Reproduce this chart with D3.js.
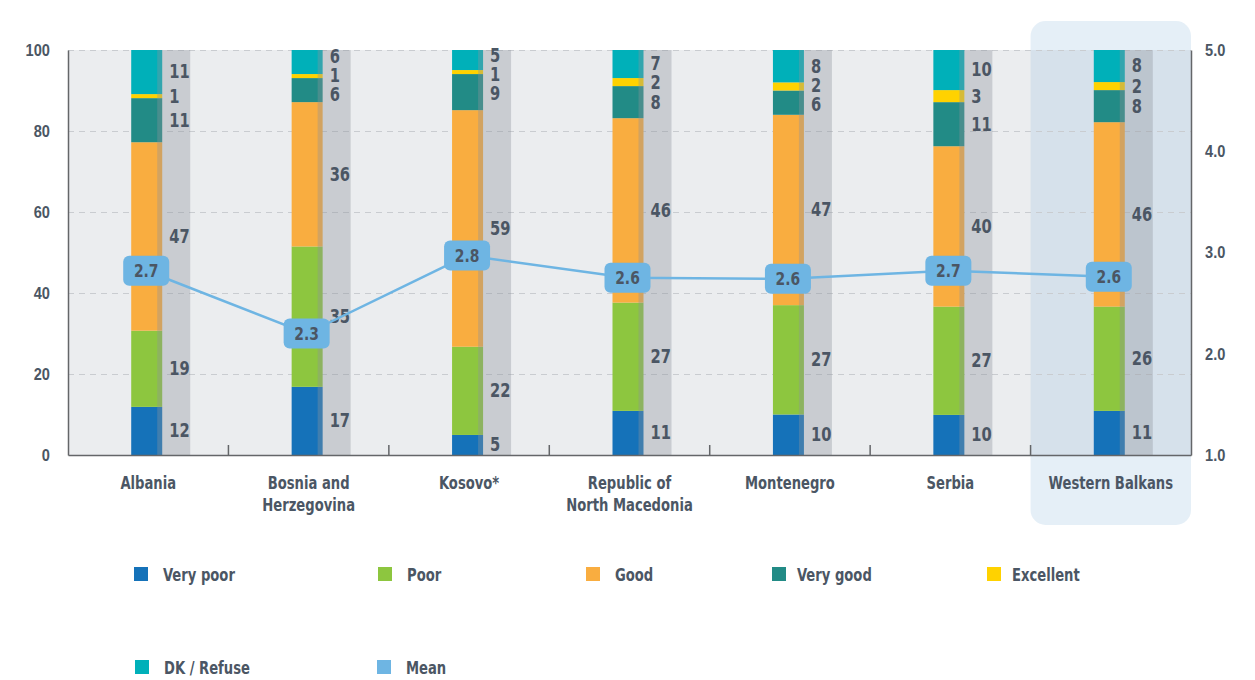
<!DOCTYPE html>
<html><head><meta charset="utf-8">
<script src="https://cdn.jsdelivr.net/npm/d3@7"></script>
<style>
html,body{margin:0;padding:0;background:#fff;}
svg{display:block;font-family:"Liberation Sans Narrow","Arial Narrow","DejaVu Sans Condensed",sans-serif;font-weight:bold;}
</style></head><body>
<svg id="chart" width="1255" height="680"></svg>
<script>
// ---------- DATA ----------
const categories = ["Albania","Bosnia and Herzegovina","Kosovo*","Republic of North Macedonia","Montenegro","Serbia","Western Balkans"];
const categoryLines = [["Albania"],["Bosnia and","Herzegovina"],["Kosovo*"],["Republic of","North Macedonia"],["Montenegro"],["Serbia"],["Western Balkans"]];
const seriesNames = ["Very poor","Poor","Good","Very good","Excellent","DK / Refuse"];
const veryPoor  = [12,17,5,11,10,10,11];
const poor      = [19,35,22,27,27,27,26];
const good      = [47,36,59,46,47,40,46];
const veryGood  = [11,6,9,8,6,11,8];
const excellent = [1,1,1,2,2,3,2];
const dkRefuse  = [11,6,5,7,8,10,8];
const meanPlotted = [2.82,2.2,2.97,2.75,2.74,2.82,2.76];
const meanLabels  = ["2.7","2.3","2.8","2.6","2.6","2.7","2.6"];
const leftTicks  = [0,20,40,60,80,100];
const rightTicks = [1,2,3,4,5];
const highlighted = "Western Balkans";
const legendItems = ["Very poor","Poor","Good","Very good","Excellent","DK / Refuse","Mean"];

// ---------- STYLE ----------
const colors = ["#1572b9","#8dc63f","#f9ad40","#228b86","#ffd200","#00b0b9"];
const meanColor = "#6eb5e3";
const textColor = "#4b5664";
const axisColor = "#646669";
const SX = 0.86; // horizontal condensing of text

const M = {left:68, right:1191, top:50, bottom:455};
const svg = d3.select("#chart");

const seriesArrays = [veryPoor,poor,good,veryGood,excellent,dkRefuse];
const rows = categories.map((c,i)=>{
  const r = {cat:c};
  seriesNames.forEach((s,k)=>r[s]=seriesArrays[k][i]);
  return r;
});
const stacked = d3.stack().keys(seriesNames).offset(d3.stackOffsetExpand)(rows);

const x = d3.scaleBand().domain(categories).range([M.left,M.right]).padding(0);
const yLeft = d3.scaleLinear().domain([0,100]).range([M.bottom,M.top]);
const yFrac = d3.scaleLinear().domain([0,1]).range([M.bottom,M.top]);
const yRight = d3.scaleLinear().domain([1,5]).range([M.bottom,M.top]);
const color = d3.scaleOrdinal().domain(seriesNames).range(colors);
const cx = c => x(c) + x.bandwidth()/2;

// condensed text helper: places text at (px,py) scaled horizontally
function ctext(sel, px, py){
  return sel.attr("transform", (d,i)=>`translate(${px(d,i)},${py(d,i)}) scale(${SX},1)`);
}

// plot background
svg.append("rect").attr("x",M.left).attr("y",M.top)
  .attr("width",M.right-M.left).attr("height",M.bottom-M.top).attr("fill","#ebedef");

// highlight
svg.append("rect").attr("x",x(highlighted)).attr("y",21)
  .attr("width",x.bandwidth()).attr("height",504).attr("rx",15)
  .attr("fill","rgb(152,192,224)").attr("fill-opacity",0.25);

// grid
const grid = svg.append("g").attr("transform",`translate(${M.left},0)`)
  .call(d3.axisLeft(yLeft).tickValues(leftTicks.filter(t=>t>0)).tickSize(-(M.right-M.left)).tickFormat(""));
grid.select(".domain").remove();
grid.selectAll("line").attr("stroke","#c9ccd0").attr("stroke-width",1).attr("stroke-dasharray","6,5");

// stacked bars
svg.append("g").selectAll("g").data(stacked).join("g")
  .attr("fill",d=>color(d.key))
  .selectAll("rect").data(d=>d).join("rect")
  .attr("x",d=>cx(d.data.cat)-17).attr("width",31)
  .attr("y",d=>yFrac(d[1])).attr("height",d=>yFrac(d[0])-yFrac(d[1]));

// grey label columns
svg.append("g").selectAll("rect").data(categories).join("rect")
  .attr("x",c=>cx(c)+9).attr("width",33)
  .attr("y",M.top).attr("height",M.bottom-M.top)
  .attr("fill","rgb(140,148,155)").attr("fill-opacity",0.36);

// axes
const leftAx = svg.append("g").attr("transform",`translate(${M.left},0)`)
  .call(d3.axisLeft(yLeft).tickValues(leftTicks).tickSize(0).tickPadding(18));
leftAx.select(".domain").attr("stroke",axisColor).attr("stroke-width",1.5);
leftAx.selectAll("text").attr("fill",textColor).attr("font-size",17)
  .attr("font-family","inherit").attr("font-weight","bold")
  .attr("transform",`translate(-18,0) scale(${SX},1)`).attr("x",0);

const rightAx = svg.append("g").attr("transform",`translate(${M.right},0)`)
  .call(d3.axisRight(yRight).tickValues(rightTicks).tickSize(0).tickPadding(14).tickFormat(d3.format(".1f")));
rightAx.select(".domain").attr("stroke",axisColor).attr("stroke-width",1.5);
rightAx.selectAll("text").attr("fill",textColor).attr("font-size",17)
  .attr("font-family","inherit").attr("font-weight","bold")
  .attr("transform",`translate(14,0) scale(${SX},1)`).attr("x",0);

const bottomAx = svg.append("g").attr("transform",`translate(0,${M.bottom})`)
  .call(d3.axisBottom(x).tickSize(0).tickFormat(""));
bottomAx.select(".domain").attr("stroke",axisColor).attr("stroke-width",1.5);
svg.append("g").selectAll("line").data(categories.slice(1)).join("line")
  .attr("x1",c=>x(c)).attr("x2",c=>x(c)).attr("y1",M.bottom).attr("y2",M.bottom-10)
  .attr("stroke",axisColor).attr("stroke-width",1.5);

// category labels
const catT = svg.append("g").selectAll("text").data(categories).join("text")
  .attr("text-anchor","middle").attr("dominant-baseline","central")
  .attr("fill",textColor).attr("font-size",17);
ctext(catT, c=>cx(c), ()=>483);
catT.selectAll("tspan").data((c,i)=>categoryLines[i]).join("tspan")
  .attr("x",0).attr("dy",(d,i)=>i===0?0:22).text(d=>d);

// value labels with simple collision avoidance
const minGap = 19;
categories.forEach((c,ci)=>{
  const ys = stacked.map(s=>(yFrac(s[ci][0])+yFrac(s[ci][1]))/2);
  for(let it=0; it<60; it++){
    for(let k=0;k<ys.length-1;k++){
      const gap = ys[k]-ys[k+1];
      if(gap<minGap){const sh=(minGap-gap)/2; ys[k]+=sh; ys[k+1]-=sh;}
    }
  }
  const t = svg.append("g").selectAll("text").data(stacked).join("text")
    .attr("dominant-baseline","central").attr("fill",textColor).attr("font-size",19)
    .text(s=>rows[ci][s.key]);
  ctext(t, ()=>cx(c)+21, (s,k)=>ys[k]);
});

// mean line
const line = d3.line().x((d,i)=>cx(categories[i])-2).y(d=>yRight(d));
svg.append("path").datum(meanPlotted).attr("d",line)
  .attr("fill","none").attr("stroke",meanColor).attr("stroke-width",2.5);
const mg = svg.append("g").selectAll("g").data(meanPlotted).join("g")
  .attr("transform",(d,i)=>`translate(${cx(categories[i])-2},${yRight(d)})`);
mg.append("rect").attr("x",-23).attr("y",-15).attr("width",46).attr("height",30).attr("rx",6)
  .attr("fill",meanColor);
mg.append("text").attr("text-anchor","middle").attr("dominant-baseline","central")
  .attr("transform",`scale(${SX},1)`)
  .attr("fill",textColor).attr("font-size",18).text((d,i)=>meanLabels[i]);

// legend
const legendPos = [[134,574],[378,574],[586,574],[772,574],[987,574],[135,667],[377,667]];
const lg = svg.append("g").selectAll("g").data(legendItems).join("g")
  .attr("transform",(d,i)=>`translate(${legendPos[i][0]},${legendPos[i][1]})`);
lg.append("rect").attr("x",0).attr("y",-7).attr("width",14).attr("height",14)
  .attr("fill",(d,i)=>i<6?colors[i]:meanColor);
const lt = lg.append("text").attr("dominant-baseline","central")
  .attr("fill",textColor).attr("font-size",17).text(d=>d);
ctext(lt, (d,i)=>i<3||i>4?29:25, ()=>1);
</script>
</body></html>
